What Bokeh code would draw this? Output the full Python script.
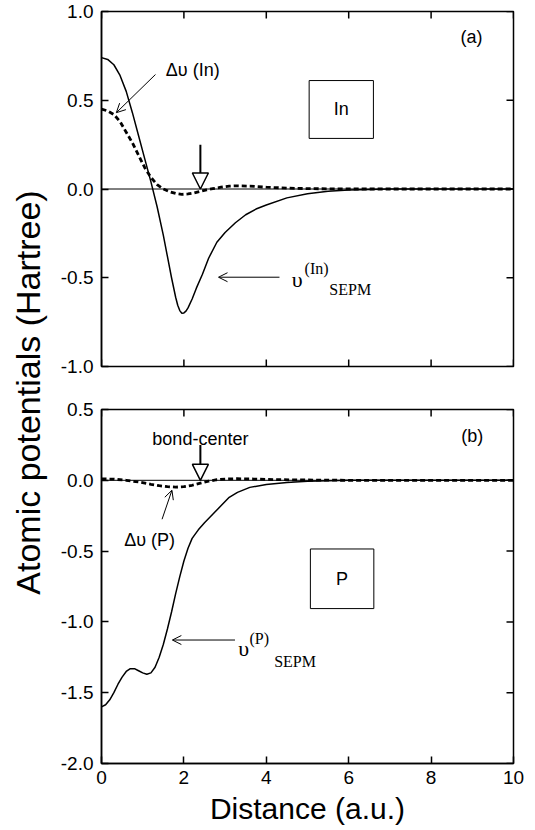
from math import pi
from bokeh.plotting import figure
from bokeh.layouts import row, column
from bokeh.models import (Range1d, LinearAxis, FixedTicker, NumeralTickFormatter, Span,
                          Arrow, NormalHead, OpenHead, Label, BoxAnnotation)
from bokeh.embed import file_html
from bokeh.resources import INLINE

# ---------------- data ----------------
x_ticks = [0, 2, 4, 6, 8, 10]
y_ticks_a = [-1.0, -0.5, 0.0, 0.5, 1.0]
y_ticks_b = [-2.0, -1.5, -1.0, -0.5, 0.0, 0.5]

# (a) In : v_SEPM
x_in_sepm = [0, 0.15, 0.3, 0.45, 0.6, 0.75, 0.9, 1.05, 1.2, 1.35, 1.5, 1.6, 1.7, 1.8, 1.85,
             1.9, 1.95, 2.0, 2.05, 2.1, 2.2, 2.3, 2.45, 2.6, 2.8, 3.0, 3.25, 3.5, 3.75, 4.0,
             4.5, 5.0, 5.5, 6.0, 7.0, 8.0, 10.0]
v_in_sepm = [0.74, 0.73, 0.70, 0.64, 0.55, 0.43, 0.30, 0.17, 0.04, -0.10, -0.26, -0.38, -0.50,
             -0.61, -0.655, -0.685, -0.70, -0.698, -0.688, -0.67, -0.62, -0.56, -0.48, -0.39,
             -0.30, -0.245, -0.19, -0.145, -0.113, -0.09, -0.05, -0.027, -0.013, -0.005,
             0.0, 0.0, 0.0]
# (a) In : delta v
x_in_dv = [0, 0.15, 0.3, 0.45, 0.6, 0.75, 0.9, 1.05, 1.2, 1.35, 1.5, 1.65, 1.8, 1.95, 2.1,
           2.25, 2.4, 2.55, 2.7, 2.9, 3.1, 3.3, 3.6, 4.0, 4.5, 5.0, 6.0, 8.0, 10.0]
dv_in = [0.45, 0.44, 0.42, 0.38, 0.32, 0.26, 0.19, 0.12, 0.065, 0.025, 0.0, -0.015, -0.025,
         -0.03, -0.028, -0.022, -0.013, -0.005, 0.002, 0.01, 0.016, 0.018, 0.016, 0.01,
         0.005, 0.002, 0.0, 0.0, 0.0]

# (b) P : v_SEPM
x_p_sepm = [0, 0.1, 0.2, 0.3, 0.4, 0.5, 0.6, 0.7, 0.8, 0.9, 1.0, 1.1, 1.2, 1.3, 1.4, 1.5,
            1.6, 1.7, 1.8, 1.9, 2.0, 2.1, 2.2, 2.35, 2.5, 2.7, 2.9, 3.1, 3.3, 3.6, 4.0, 4.5,
            5.0, 5.5, 6.0, 8.0, 10.0]
v_p_sepm = [-1.60, -1.585, -1.55, -1.50, -1.44, -1.39, -1.35, -1.33, -1.33, -1.345, -1.36,
            -1.37, -1.36, -1.32, -1.25, -1.16, -1.05, -0.93, -0.80, -0.68, -0.57, -0.48,
            -0.41, -0.35, -0.30, -0.24, -0.18, -0.12, -0.085, -0.05, -0.03, -0.015, -0.007,
            -0.003, 0.0, 0.0, 0.0]
# (b) P : delta v
x_p_dv = [0, 0.3, 0.6, 0.9, 1.2, 1.4, 1.6, 1.8, 2.0, 2.2, 2.4, 2.6, 2.8, 3.0, 3.3, 3.7, 4.2,
          5.0, 6.0, 8.0, 10.0]
dv_p = [0.01, 0.008, 0.0, -0.012, -0.028, -0.038, -0.045, -0.048, -0.045, -0.035, -0.02,
        -0.006, 0.004, 0.009, 0.011, 0.009, 0.005, 0.002, 0.0, 0.0, 0.0]

bond_center = 2.4

SANS = "Liberation Sans"
SERIF = "Liberation Serif"
TICK_FS = "19px"
TICK_LEN = 7

W_MAIN = 469
H_A = 387
H_B = 440


def style_axis(ax):
    ax.major_tick_in = TICK_LEN
    ax.major_tick_out = 0
    ax.minor_tick_line_color = None
    ax.axis_line_color = "black"
    ax.axis_line_width = 1.5
    ax.major_tick_line_width = 1.5
    ax.major_label_text_font = SANS
    ax.major_label_text_color = "black"
    ax.major_label_text_font_size = TICK_FS
    ax.major_label_standoff = 8


def make_fig(height, y_lo, y_hi, y_ticks, border_top, border_bottom, show_x_axis):
    p = figure(width=W_MAIN, height=height, output_backend="svg", toolbar_location=None,
               x_range=Range1d(0, 10), y_range=Range1d(y_lo, y_hi),
               min_border_left=41, min_border_right=13,
               min_border_top=border_top, min_border_bottom=border_bottom,
               x_axis_location=None, y_axis_location=None)
    p.xgrid.visible = False
    p.ygrid.visible = False
    p.outline_line_color = "black"
    p.outline_line_width = 1.5
    p.background_fill_color = "white"
    p.border_fill_color = "white"

    left = LinearAxis(ticker=FixedTicker(ticks=y_ticks),
                      formatter=NumeralTickFormatter(format="0.0"))
    style_axis(left)
    p.add_layout(left, "left")

    if show_x_axis:
        bottom = LinearAxis(ticker=FixedTicker(ticks=x_ticks))
        style_axis(bottom)
        bottom.major_label_standoff = 7
        bottom.axis_label = "Distance (a.u.)"
        bottom.axis_label_text_font = SANS
        bottom.axis_label_text_font_size = "30px"
        bottom.axis_label_text_font_style = "normal"
        bottom.axis_label_text_color = "black"
        bottom.axis_label_standoff = 5
        p.add_layout(bottom, "below")
    else:
        # inward ticks on the bottom edge (no labels)
        p.ray(x=x_ticks, y=[y_lo] * len(x_ticks), length=TICK_LEN, length_units="screen",
              angle=pi / 2, line_color="black", line_width=1.5)

    # inward ticks on the top and right edges (no labels)
    p.ray(x=x_ticks, y=[y_hi] * len(x_ticks), length=TICK_LEN, length_units="screen",
          angle=-pi / 2, line_color="black", line_width=1.5)
    p.ray(x=[10] * len(y_ticks), y=y_ticks, length=TICK_LEN, length_units="screen",
          angle=pi, line_color="black", line_width=1.5)

    p.add_layout(Span(location=0, dimension="width", line_color="black", line_width=1))
    return p


def bond_arrow(p, y_top):
    p.add_layout(Arrow(x_start=bond_center, y_start=y_top, x_end=bond_center, y_end=0.0,
                       line_width=2, line_color="black",
                       end=NormalHead(size=16, fill_color="white", line_color="black",
                                      line_width=1.5)))


def thin_arrow(p, x0, y0, x1, y1):
    p.add_layout(Arrow(x_start=x0, y_start=y0, x_end=x1, y_end=y1,
                       line_width=1, line_color="black",
                       end=OpenHead(size=9, line_color="black", line_width=1)))


def lab(p, x, y, text, font=SANS, size="18px", align="left", baseline="alphabetic"):
    p.add_layout(Label(x=x, y=y, text=text, text_font=font, text_font_size=size,
                       text_align=align, text_baseline=baseline, text_color="black"))


def box(p, l, r, b, t):
    p.add_layout(BoxAnnotation(left=l, right=r, bottom=b, top=t, fill_color=None,
                               fill_alpha=0, line_color="black", line_alpha=1,
                               line_width=1))


# ---------------- panel (a) ----------------
pa = make_fig(H_A, -1.0, 1.0, y_ticks_a, 11, 21, False)
pa.line(x_in_sepm, v_in_sepm, line_color="black", line_width=1.5)
pa.line(x_in_dv, dv_in, line_color="black", line_width=2.8, line_dash="5 3")
bond_arrow(pa, 0.25)
thin_arrow(pa, 1.31, 0.645, 0.36, 0.43)
lab(pa, 1.56, 0.668, "\u0394\u03c5 (In)")
thin_arrow(pa, 4.32, -0.497, 2.84, -0.497)
lab(pa, 4.62, -0.51, "\u03c5", font=SERIF, size="22px")
lab(pa, 4.93, -0.45, "(In)", font=SERIF, size="16px")
lab(pa, 5.53, -0.566, "SEPM", font=SERIF, size="16px")
box(pa, 5.04, 6.6, 0.285, 0.611)
lab(pa, 5.82, 0.45, "In", align="center", baseline="middle")
lab(pa, 8.98, 0.856, "(a)", align="center", baseline="middle")

# ---------------- panel (b) ----------------
pb = make_fig(H_B, -2.0, 0.5, y_ticks_b, 22, 60, True)
pb.line(x_p_sepm, v_p_sepm, line_color="black", line_width=1.5)
pb.line(x_p_dv, dv_p, line_color="black", line_width=2.8, line_dash="5 3")
bond_arrow(pb, 0.25)
lab(pb, bond_center, 0.293, "bond-center", align="center")
thin_arrow(pb, 1.47, -0.275, 1.71, -0.07)
lab(pb, 0.55, -0.42, "\u0394\u03c5 (P)")
thin_arrow(pb, 3.24, -1.128, 1.72, -1.128)
lab(pb, 3.32, -1.187, "\u03c5", font=SERIF, size="22px")
lab(pb, 3.59, -1.117, "(P)", font=SERIF, size="16px")
lab(pb, 4.19, -1.278, "SEPM", font=SERIF, size="16px")
box(pb, 5.07, 6.61, -0.906, -0.485)
lab(pb, 5.84, -0.70, "P", align="center", baseline="middle")
lab(pb, 9.0, 0.31, "(b)", align="center", baseline="middle")

# ---------------- y-axis title ----------------
H_TOT = H_A + H_B
W_LAB = 57
pl = figure(width=W_LAB, height=H_TOT, output_backend="svg", toolbar_location=None,
            x_range=Range1d(0, W_LAB), y_range=Range1d(0, H_TOT),
            min_border=0, x_axis_type=None, y_axis_type=None)
pl.xgrid.visible = False
pl.ygrid.visible = False
pl.outline_line_color = None
pl.add_layout(Label(x=27, y=H_TOT - 392, text="Atomic potentials (Hartree)", angle=pi / 2,
                    text_font=SANS, text_font_size="34px", text_align="center",
                    text_baseline="middle", text_color="black"))

layout = row(pl, column(pa, pb, spacing=0), spacing=0)

with open("out.html", "w") as f:
    f.write(file_html(layout, INLINE))
